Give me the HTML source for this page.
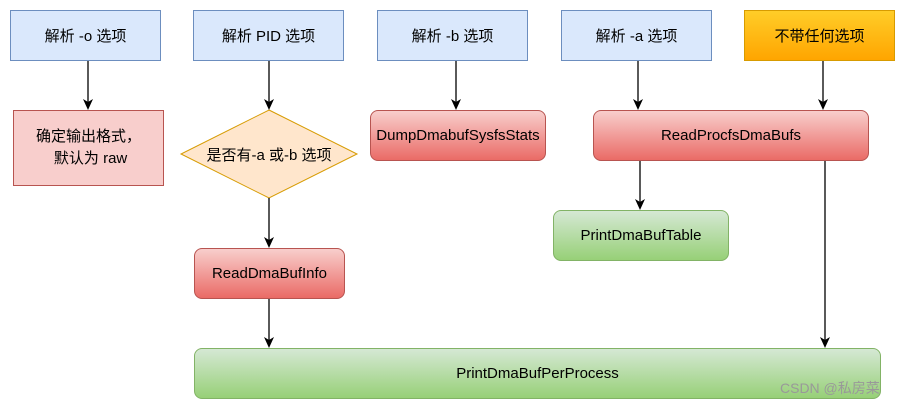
<!DOCTYPE html>
<html><head><meta charset="utf-8"><style>
body{margin:0;background:#fff;width:903px;height:404px;overflow:hidden;position:relative;font-family:"Liberation Sans","Noto Sans CJK SC",sans-serif;font-size:15px;color:#000}
.b{position:absolute;box-sizing:border-box;display:flex;align-items:center;justify-content:center;text-align:center}
.blue{background:#dae8fc;border:1px solid #6c8ebf}
.red{background:linear-gradient(#f8cecc,#ea6b66);border:1px solid #b85450;border-radius:8px}
.green{background:linear-gradient(#d5e8d4,#97d077);border:1px solid #82b366;border-radius:8px}
</style></head><body>
<div class="b blue" style="left:10px;top:10px;width:151px;height:51px">解析 -o 选项</div>
<div class="b blue" style="left:193px;top:10px;width:151px;height:51px">解析 PID 选项</div>
<div class="b blue" style="left:377px;top:10px;width:151px;height:51px">解析 -b 选项</div>
<div class="b blue" style="left:561px;top:10px;width:151px;height:51px">解析 -a 选项</div>
<div class="b" style="left:744px;top:10px;width:151px;height:51px;background:linear-gradient(#ffcd28,#ffa500);border:1px solid #d79b00">不带任何选项</div>
<div class="b" style="left:13px;top:110px;width:151px;height:76px;background:#f8cecc;border:1px solid #b85450;line-height:22px">确定输出格式，<br>&nbsp;默认为 raw</div>
<svg style="position:absolute;left:0;top:0" width="903" height="404">
<polygon points="269,110 357,154 269,198 181,154" fill="#ffe6cc" stroke="#d79b00"/>
<g stroke="#000" stroke-width="1.3">
<line x1="88" y1="61" x2="88" y2="102"/><line x1="269" y1="61" x2="269" y2="102"/>
<line x1="456" y1="61" x2="456" y2="102"/><line x1="638" y1="61" x2="638" y2="102"/>
<line x1="823" y1="61" x2="823" y2="102"/><line x1="640" y1="160" x2="640" y2="202"/>
<line x1="269" y1="198" x2="269" y2="240"/><line x1="269" y1="298" x2="269" y2="340"/>
<line x1="825" y1="160" x2="825" y2="340"/></g>
<g fill="#000">
<polygon points="83,99 88,102 93,99 88,110"/><polygon points="264,99 269,102 274,99 269,110"/>
<polygon points="451,99 456,102 461,99 456,110"/><polygon points="633,99 638,102 643,99 638,110"/>
<polygon points="818,99 823,102 828,99 823,110"/><polygon points="635,199 640,202 645,199 640,210"/>
<polygon points="264,237 269,240 274,237 269,248"/><polygon points="264,337 269,340 274,337 269,348"/>
<polygon points="820,337 825,340 830,337 825,348"/></g>
<text x="269" y="160" text-anchor="middle" font-size="15" font-family="Liberation Sans,Noto Sans CJK SC,sans-serif">是否有-a 或-b 选项</text>
</svg>
<div class="b red" style="left:370px;top:110px;width:176px;height:51px">DumpDmabufSysfsStats</div>
<div class="b red" style="left:593px;top:110px;width:276px;height:51px">ReadProcfsDmaBufs</div>
<div class="b green" style="left:553px;top:210px;width:176px;height:51px">PrintDmaBufTable</div>
<div class="b red" style="left:194px;top:248px;width:151px;height:51px">ReadDmaBufInfo</div>
<div class="b green" style="left:194px;top:348px;width:687px;height:51px">PrintDmaBufPerProcess</div>
<div style="position:absolute;left:780px;top:378px;font-size:14px;color:#999">CSDN @私房菜</div>
</body></html>
